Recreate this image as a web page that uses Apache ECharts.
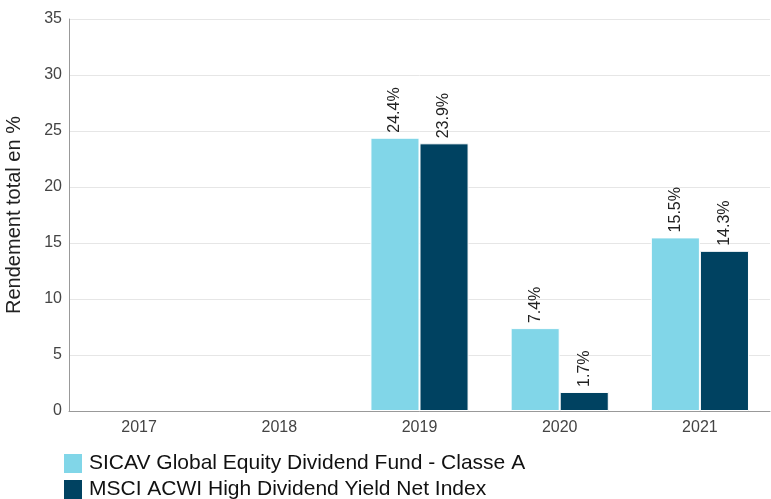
<!DOCTYPE html>
<html>
<head>
<meta charset="utf-8">
<script src="https://cdn.jsdelivr.net/npm/echarts@6/dist/echarts.min.js"></script>
<style>
  html, body { margin: 0; padding: 0; background: #fff; }
  #chart { width: 771px; height: 499px; }
</style>
</head>
<body>
<div id="chart"></div>
<script>
const years = ['2017', '2018', '2019', '2020', '2021'];
const fundName = 'SICAV Global Equity Dividend Fund - Classe A';
const indexName = 'MSCI ACWI High Dividend Yield Net Index';
const fundValues = [null, null, 24.4, 7.4, 15.5];
const indexValues = [null, null, 23.9, 1.7, 14.3];

const chart = echarts.init(document.getElementById('chart'));

const font = 'Liberation Sans, Arial, sans-serif';

const barLabel = {
  show: true,
  position: 'top',
  rotate: 90,
  align: 'left',
  verticalAlign: 'middle',
  distance: 5,
  fontFamily: font,
  fontSize: 16,
  color: '#222',
  formatter: p => p.value.toFixed(1) + '%'
};

// one legend per row so the two entries stack like the original
function legendRow(name, top) {
  return {
    orient: 'horizontal',
    left: 62,
    top: top,
    padding: 0,
    itemWidth: 20,
    itemHeight: 21,
    itemGap: 0,
    icon: 'rect',
    textStyle: { fontFamily: font, fontSize: 21, color: '#111', padding: [0, 0, 0, 1] },
    data: [name]
  };
}

chart.setOption({
  animation: false,
  textStyle: { fontFamily: font },
  grid: { left: 69, right: 1, top: 19, bottom: 88, outerBoundsMode: 'none', containLabel: false },
  legend: [legendRow(fundName, 452), legendRow(indexName, 478)],
  xAxis: {
    type: 'category',
    data: years,
    axisLine: { lineStyle: { color: '#999' } },
    axisTick: { show: false },
    axisLabel: { color: '#444', fontSize: 16, margin: 9 }
  },
  yAxis: {
    type: 'value',
    min: 0,
    max: 35,
    interval: 5,
    name: 'Rendement total en %',
    nameLocation: 'middle',
    nameGap: 45,
    nameTextStyle: { fontSize: 20, color: '#222' },
    axisLine: { show: true, lineStyle: { color: '#999' } },
    axisLabel: { color: '#444', fontSize: 16, margin: 7 },
    splitLine: { lineStyle: { color: '#e6e6e6' } }
  },
  series: [
    {
      name: fundName,
      type: 'bar',
      data: fundValues,
      barGap: '0%',
      barCategoryGap: '30%',
      itemStyle: { color: '#81d6e8', borderColor: '#fff', borderWidth: 1 },
      label: barLabel
    },
    {
      name: indexName,
      type: 'bar',
      data: indexValues,
      itemStyle: { color: '#004261', borderColor: '#fff', borderWidth: 1 },
      label: barLabel
    }
  ]
});
</script>
</body>
</html>
